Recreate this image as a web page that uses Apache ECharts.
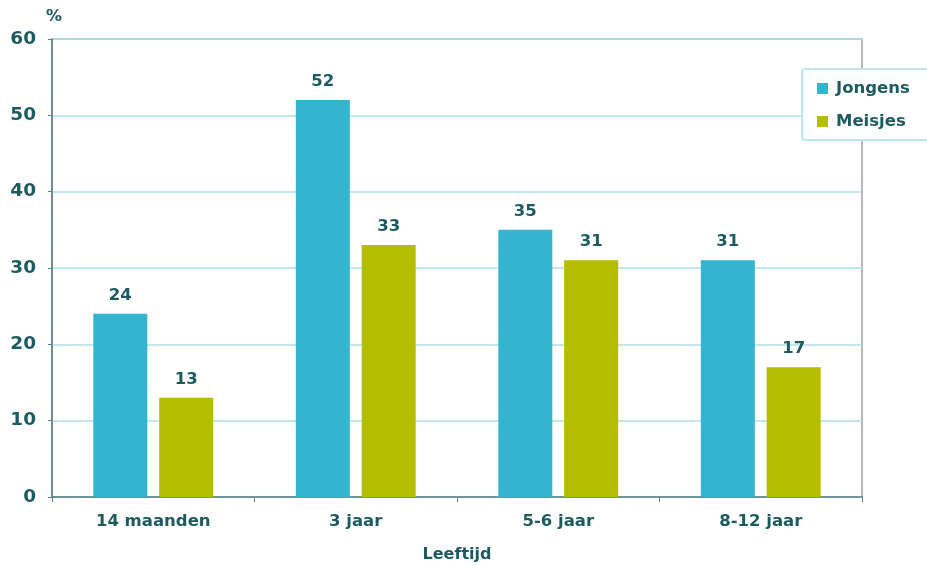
<!DOCTYPE html>
<html><head><meta charset="utf-8">
<script src="https://cdn.jsdelivr.net/npm/echarts@6/dist/echarts.min.js"></script>
<style>html,body{margin:0;padding:0;background:#fff}#c{width:927px;height:565px}</style>
</head><body><div id="c"></div>
<script>
const categories = ['14 maanden', '3 jaar', '5-6 jaar', '8-12 jaar'];
const jongens = [24, 52, 35, 31];
const meisjes = [13, 33, 31, 17];
const yTicks = [0, 10, 20, 30, 40, 50, 60];

const txt = '#1b5a60';
const font = 'DejaVu Sans';
const chart = echarts.init(document.getElementById('c'));
chart.setOption({
  animation: false,
  textStyle: {fontFamily: font},
  grid: {left: 52, right: 65, top: 39, bottom: 68, show: true, borderColor: '#a0a0a0', borderWidth: 1.5,
         containLabel: false, outerBoundsMode: 'none'},
  legend: {
    orient: 'vertical', left: 802, top: 69, itemWidth: 11, itemHeight: 11, itemGap: 16,
    icon: 'rect',
    padding: [11, 20, 10, 15], borderColor: '#bfe6ee', borderWidth: 2, borderRadius: 3,
    backgroundColor: '#fff',
    textStyle: {color: txt, fontWeight: 'bold', fontSize: 16.5, fontFamily: font, padding: [0, 0, 0, 3]},
    data: ['Jongens', 'Meisjes']
  },
  xAxis: {
    type: 'category', data: categories,
    name: 'Leeftijd', nameLocation: 'middle', nameGap: 50,
    nameTextStyle: {color: txt, fontWeight: 'bold', fontSize: 16},
    axisLine: {lineStyle: {color: '#5a7f85', width: 1.5}},
    axisTick: {show: true, length: 5, lineStyle: {color: '#5a7f85'}},
    axisLabel: {color: txt, fontWeight: 'bold', fontSize: 16.5, margin: 16}
  },
  yAxis: {
    type: 'value', min: 0, max: 60, interval: 10,
    name: '%', nameLocation: 'end', nameGap: 14,
    nameTextStyle: {color: txt, fontWeight: 'bold', fontSize: 16, align: 'center', padding: [0, 0, 0, 4]},
    axisLine: {show: true, lineStyle: {color: '#5a7f85', width: 1.5}},
    axisTick: {show: true, length: 4, lineStyle: {color: '#5a7f85'}},
    splitLine: {lineStyle: {color: '#aee0ea', width: 1.5}},
    axisLabel: {color: txt, fontWeight: 'bold', fontSize: 18.5, margin: 16,
      formatter: v => yTicks.includes(v) ? String(v) : ''}
  },
  series: [
    {name: 'Jongens', type: 'bar', data: jongens, barWidth: 54, barGap: '22%',
     itemStyle: {color: '#33b5cf'},
     label: {show: true, position: 'top', distance: 10, color: txt, fontWeight: 'bold', fontSize: 16.5}},
    {name: 'Meisjes', type: 'bar', data: meisjes, barWidth: 54,
     itemStyle: {color: '#b5bd00'},
     label: {show: true, position: 'top', distance: 10, color: txt, fontWeight: 'bold', fontSize: 16.5}}
  ]
});
</script></body></html>
